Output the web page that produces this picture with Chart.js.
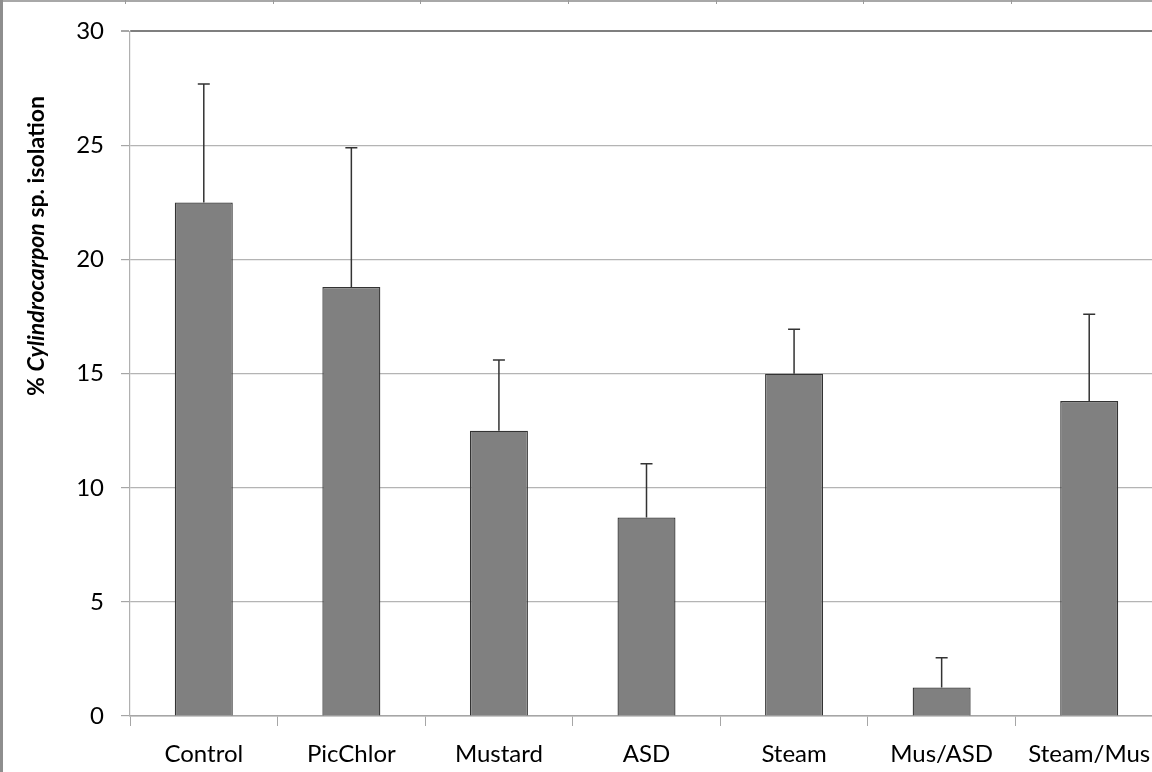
<!DOCTYPE html>
<html>
<head>
<meta charset="utf-8">
<script src="https://cdn.jsdelivr.net/npm/chart.js@4/dist/chart.umd.min.js"></script>
<style>
  html, body { margin: 0; padding: 0; background: #ffffff; overflow: hidden; }
  #wrap { width: 1166px; height: 772px; position: relative; }
</style>
</head>
<body>
<div id="wrap"><canvas id="chart" width="1166" height="772"></canvas></div>
<script>
// Treatments and mean isolation frequency (%), with the upper standard error
const categories = ['Control', 'PicChlor', 'Mustard', 'ASD', 'Steam', 'Mus/ASD', 'Steam/Mus'];
const isolation = [22.5, 18.8, 12.5, 8.7, 15.0, 1.25, 13.8];
const stdError = [5.2, 6.1, 3.1, 2.35, 1.95, 1.3, 3.8];
const yTicks = [0, 5, 10, 15, 20, 25, 30];

const FONT = 'Lato, "Open Sans", "DejaVu Sans", sans-serif';

// One-sided (upper) error bars drawn on top of each bar
const errorBars = {
  id: 'errorBars',
  afterDatasetsDraw(chart) {
    const { ctx } = chart;
    const meta = chart.getDatasetMeta(0);
    const y = chart.scales.y;
    ctx.save();
    ctx.strokeStyle = '#333333';
    ctx.lineWidth = 1.5;
    meta.data.forEach((bar, i) => {
      const top = y.getPixelForValue(isolation[i] + stdError[i]);
      const base = y.getPixelForValue(isolation[i]);
      ctx.beginPath();
      ctx.moveTo(bar.x, base);
      ctx.lineTo(bar.x, top);
      ctx.moveTo(bar.x - 6, top);
      ctx.lineTo(bar.x + 6, top);
      ctx.stroke();
    });
    ctx.restore();
  }
};

// Y axis title with the genus name in italics
const axisTitle = {
  id: 'axisTitle',
  afterDraw(chart) {
    const { ctx } = chart;
    const parts = [
      { t: '% ', f: 'bold 23px ' + FONT },
      { t: 'Cylindrocarpon', f: 'italic bold 23px ' + FONT },
      { t: ' sp. isolation', f: 'bold 23px ' + FONT }
    ];
    ctx.save();
    let total = 0;
    parts.forEach(p => { ctx.font = p.f; p.w = ctx.measureText(p.t).width; total += p.w; });
    ctx.translate(37, 246);
    ctx.rotate(-Math.PI / 2);
    ctx.fillStyle = '#000000';
    ctx.textBaseline = 'middle';
    let x = -total / 2;
    parts.forEach(p => { ctx.font = p.f; ctx.fillText(p.t, x, 0); x += p.w; });
    ctx.restore();
  }
};

// Sheet frame: left border and the column edges along the top row
const sheetFrame = {
  id: 'sheetFrame',
  beforeDraw(chart) {
    const { ctx, width, height } = chart;
    ctx.save();
    ctx.fillStyle = '#ffffff';
    ctx.fillRect(0, 0, width, height);
    ctx.fillStyle = '#a8a8a8';
    ctx.fillRect(0, 0, width, 2);
    ctx.fillStyle = '#8e8e8e';
    ctx.fillRect(0, 0, 3, height);
    ctx.fillStyle = '#9a9a9a';
    [125, 273, 420, 568, 716, 863, 1011].forEach(cx => ctx.fillRect(cx, 0, 1, 4));
    ctx.restore();
  }
};

new Chart(document.getElementById('chart'), {
  type: 'bar',
  data: {
    labels: categories,
    datasets: [{
      data: isolation,
      backgroundColor: '#808080',
      borderColor: '#333333',
      borderWidth: 1.3,
      categoryPercentage: 1.0,
      barPercentage: 0.393
    }]
  },
  options: {
    responsive: false,
    animation: false,
    devicePixelRatio: 1,
    layout: { padding: { top: 31, left: 0, right: 3, bottom: 0 } },
    plugins: {
      legend: { display: false },
      tooltip: { enabled: false },
      title: { display: false }
    },
    scales: {
      x: {
        offset: true,
        grid: {
          offset: true,
          drawOnChartArea: false,
          drawTicks: true,
          tickLength: 10,
          tickColor: '#a6a6a6',
          tickWidth: 1
        },
        border: { color: '#a6a6a6', width: 1.5 },
        ticks: {
          color: '#000000',
          font: { family: FONT, size: 24 },
          padding: 14,
          maxRotation: 0,
          autoSkip: false
        },
        afterFit(scale) { scale.height = 56; }
      },
      y: {
        min: 0,
        max: 30,
        afterBuildTicks(scale) { scale.ticks = yTicks.map(v => ({ value: v })); },
        grid: {
          color: ctx => (ctx.tick && ctx.tick.value === 30 ? '#7f7f7f' : '#b4b4b4'),
          lineWidth: ctx => (ctx.tick && ctx.tick.value === 30 ? 2 : 1.2),
          drawTicks: true,
          tickLength: 9,
          tickColor: '#a6a6a6'
        },
        border: { color: '#b0b0b0', width: 1.2 },
        ticks: {
          color: '#000000',
          font: { family: FONT, size: 24 },
          padding: 17
        },
        afterFit(scale) { scale.width = 130; }
      }
    }
  },
  plugins: [sheetFrame, errorBars, axisTitle]
});
</script>
</body>
</html>
